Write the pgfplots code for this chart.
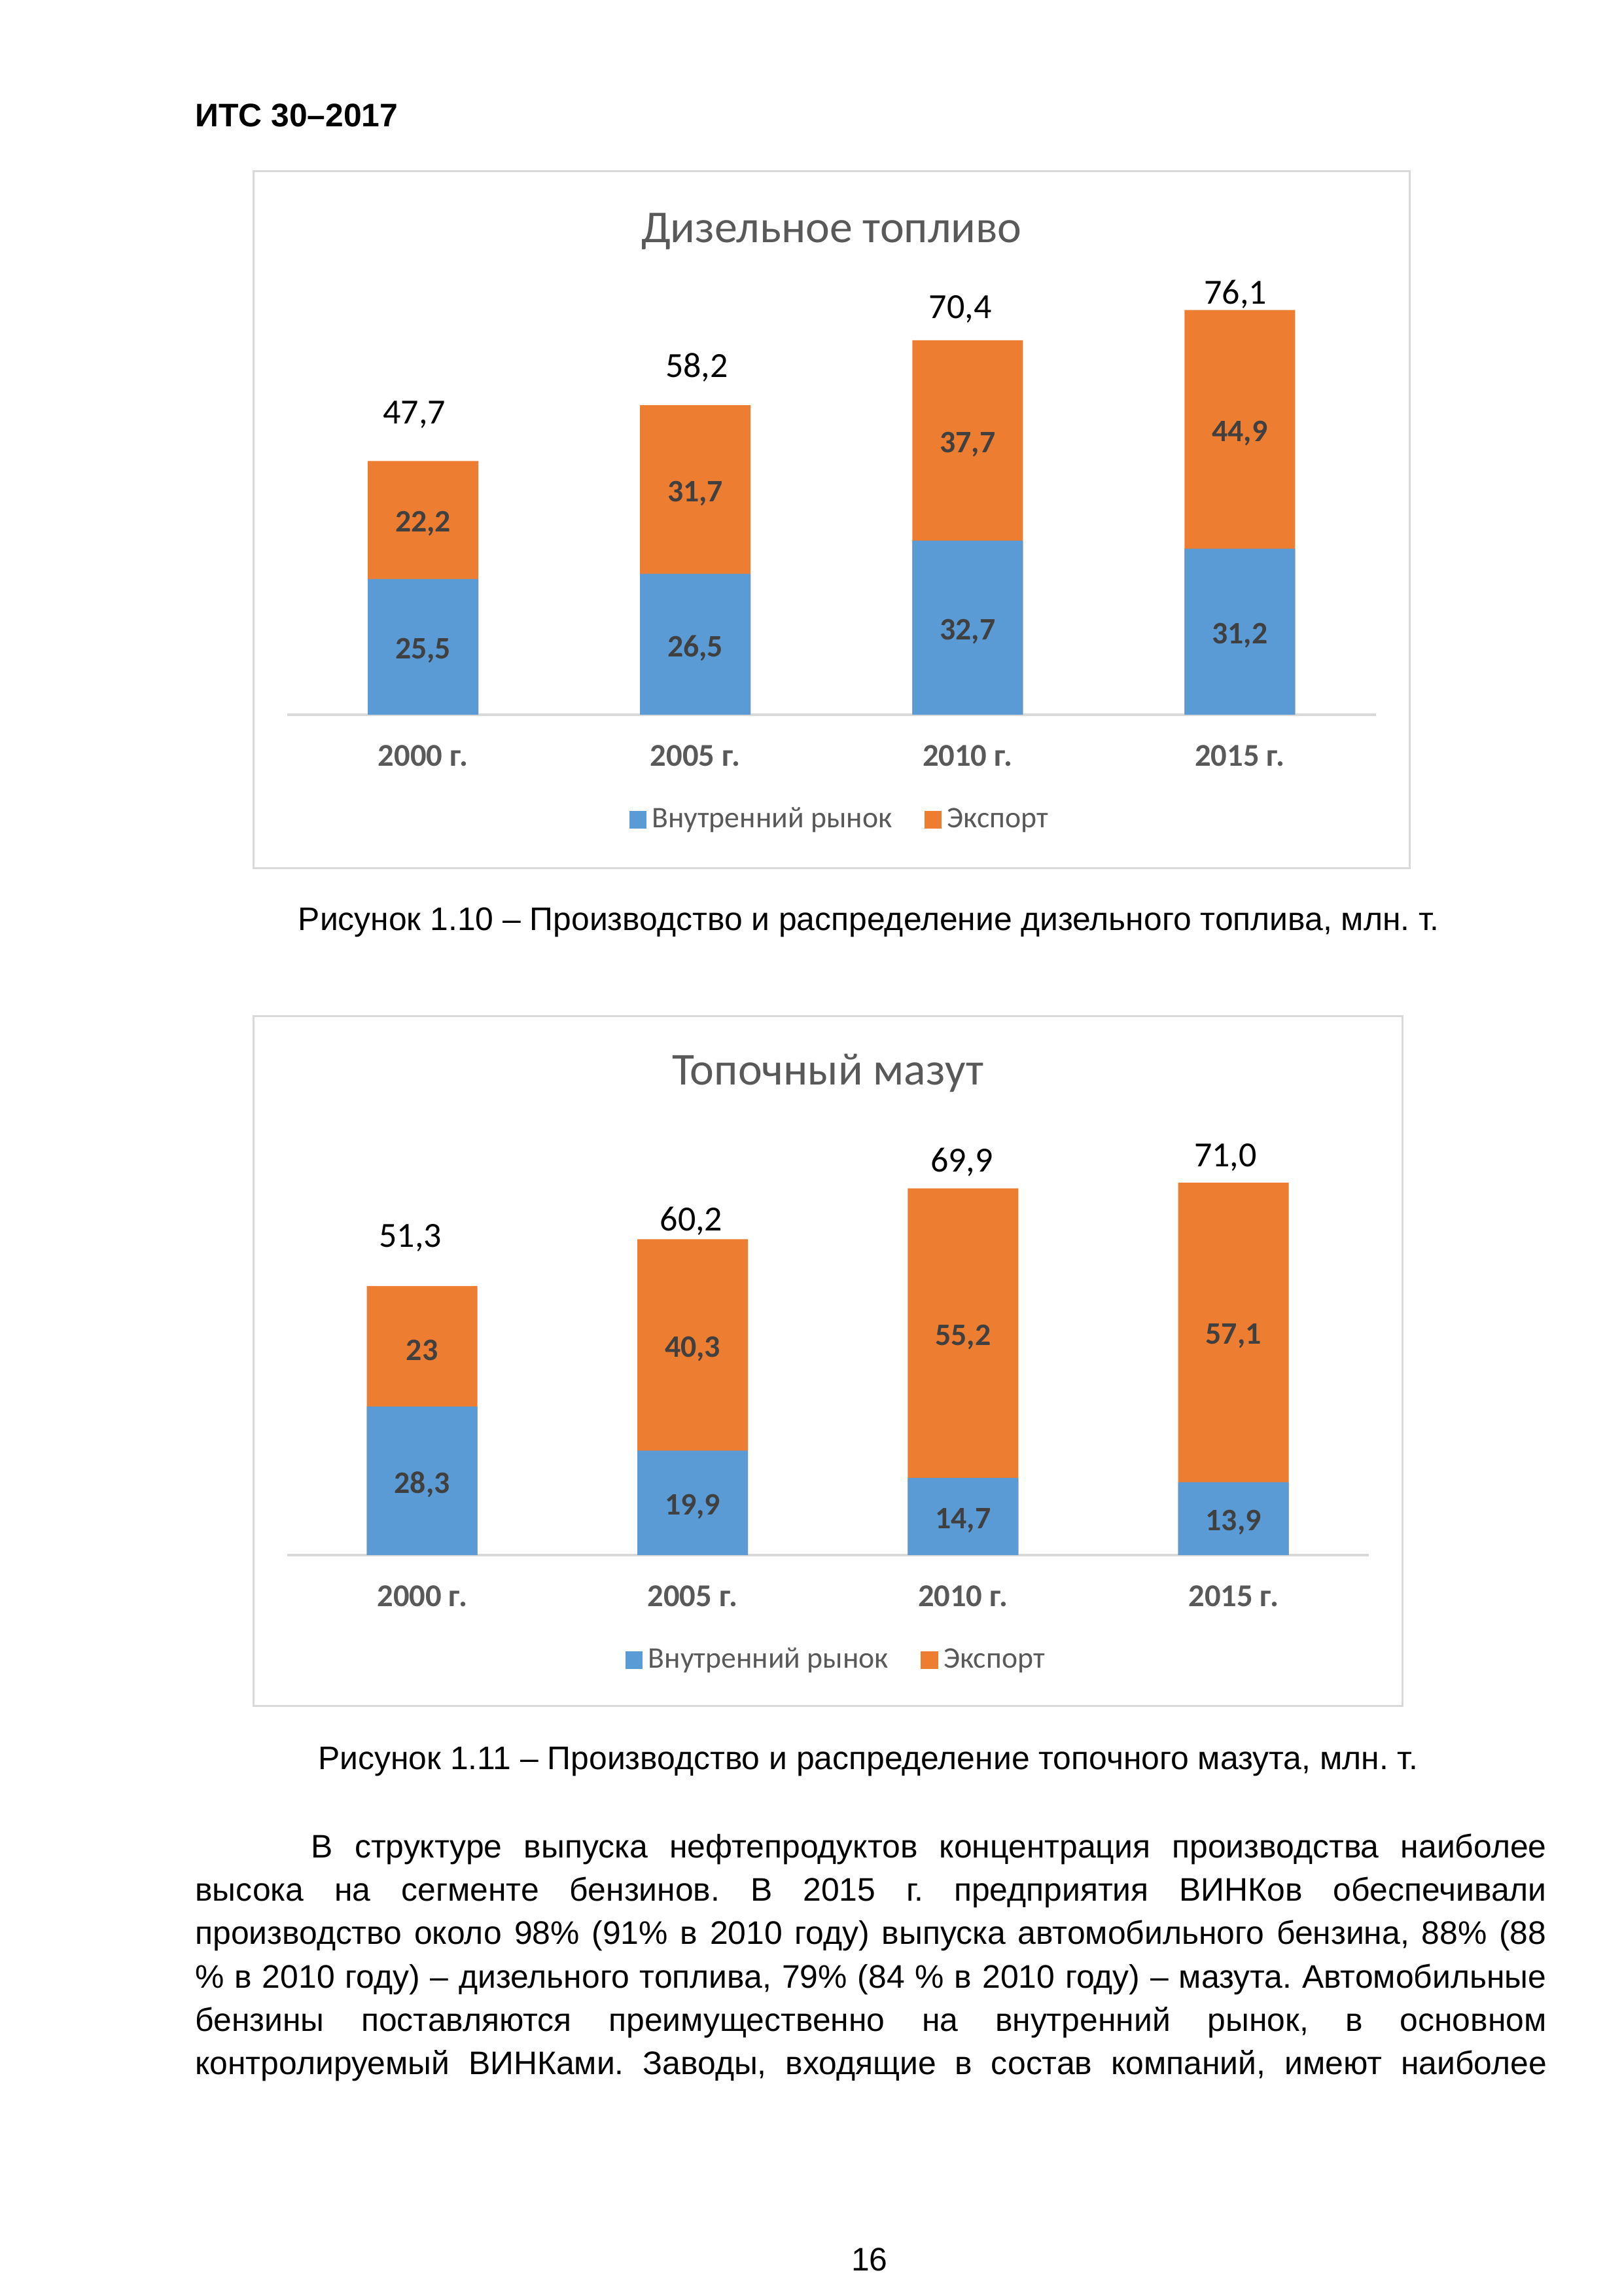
\documentclass[border=0pt]{standalone}
\usepackage{pgfplots}
\pgfplotsset{compat=1.18}
\usepackage{pgfplotstable}
\usepackage{fontspec}
\setmainfont{Liberation Sans}
\newfontfamily\calibri{Carlito}
\definecolor{barblue}{HTML}{5B9BD5}
\definecolor{barorange}{HTML}{ED7D31}
\definecolor{labgray}{HTML}{404040}
\definecolor{txtgray}{HTML}{595959}
\definecolor{linegray}{HTML}{D9D9D9}
\def\pxu{0.18936mm}

% Diesel fuel, mln t
\pgfplotstableread{
x dom exp tot lx ly ld le lt
0 25.5 22.2 47.7 -0.032 56.4 25,5 22,2 47,7
1 26.5 31.7 58.2 1.005 65.3 26,5 31,7 58,2
2 32.7 37.7 70.4 1.973 76.3 32,7 37,7 70,4
3 31.2 44.9 76.1 2.984 79.1 31,2 44,9 76,1
}\dieseldata

% Fuel oil, mln t
\pgfplotstableread{
x dom exp tot lx ly ld le lt
0 28.3 23.0 51.3 -0.043 60.5 28,3 23 51,3
1 19.9 40.3 60.2 0.995 63.7 19,9 40,3 60,2
2 14.7 55.2 69.9 1.995 74.9 14,7 55,2 69,9
3 13.9 57.1 71.0 2.970 75.8 13,9 57,1 71,0
}\mazutdata

\pgfplotsset{
  chartstyle/.style={
    scale only axis,
    xmin=-0.5, xmax=3.5, ymin=0, ymax=80, enlargelimits=false,
    axis x line=bottom, axis y line=none,
    x axis line style={draw=linegray, line width=1pt, -},
    xtick={0,1,2,3},
    xticklabels={2000 г.,2005 г.,2010 г.,2015 г.},
    major tick length=0pt,
    xtick style={draw=none},
    xticklabel style={anchor=center, yshift=-5.3mm,
      font=\calibri\bfseries\fontsize{11.7}{13}\selectfont, text=txtgray},
    ytick=\empty,
    clip=false,
    title style={font=\calibri\fontsize{16.8}{19}\selectfont, text=txtgray,
      at={(0.5,1)}, anchor=center},
    legend columns=2,
    legend style={at={(0.5,0)}, anchor=center, yshift=-13.6mm, xshift=1.3mm,
      draw=none, fill=none,
      font=\calibri\fontsize{11}{13}\selectfont, text=txtgray,
      /tikz/every even column/.append style={column sep=3.5mm}},
  },
  barsty/.style={ybar, bar shift=0pt, bar width=14.3mm, draw=none, forget plot},
  inlab/.style={draw=none, mark=none, nodes near coords, forget plot,
    point meta=explicit symbolic,
    every node near coord/.append style={anchor=center, yshift=-0.5mm,
      font=\calibri\bfseries\fontsize{11.5}{13}\selectfont, text=labgray}},
  totlab/.style={draw=none, mark=none, nodes near coords, forget plot,
    point meta=explicit symbolic,
    every node near coord/.append style={anchor=center,
      font=\calibri\fontsize{13}{15}\selectfont, text=black}},
  bluekey/.style={legend image code/.code={\fill[barblue] (0mm,-1.05mm) rectangle (2.1mm,1.05mm);}},
  orangekey/.style={legend image code/.code={\fill[barorange] (0mm,-1.05mm) rectangle (2.1mm,1.05mm);}},
}

\begin{document}
\frenchspacing
\begin{tikzpicture}
% page
\fill[white] (0,0) rectangle ({1109*\pxu},{-1568*\pxu});

% header
\node[anchor=west, inner sep=0pt, font=\bfseries\fontsize{12}{14}\selectfont]
  at ({133*\pxu},{-79*\pxu}) {ИТС 30–2017};

% chart frames
\draw[linegray, line width=0.7pt] ({173*\pxu},{-117*\pxu}) rectangle ({963*\pxu},{-593*\pxu});
\draw[linegray, line width=0.7pt] ({173*\pxu},{-694*\pxu}) rectangle ({958*\pxu},{-1165*\pxu});

% chart 1
\begin{axis}[chartstyle,
  at={({196*\pxu},{-488*\pxu})}, anchor=south west,
  width=140.88mm, height=55.0mm,
  title={Дизельное топливо}, title style={yshift=5.4mm},
]
\addlegendimage{bluekey}
\addlegendentry{Внутренний рынок}
\addlegendimage{orangekey}
\addlegendentry{Экспорт}
\addplot[barsty, fill=barorange] table[x=x, y=tot] {\dieseldata};
\addplot[barsty, fill=barblue] table[x=x, y=dom] {\dieseldata};
\addplot[inlab] table[x=x, y expr=\thisrow{dom}/2, meta=ld] {\dieseldata};
\addplot[inlab] table[x=x, y expr=\thisrow{dom}+\thisrow{exp}/2, meta=le] {\dieseldata};
\addplot[totlab] table[x=lx, y=ly, meta=lt] {\dieseldata};
\end{axis}

% chart 2
\begin{axis}[chartstyle,
  at={({196*\pxu},{-1062*\pxu})}, anchor=south west,
  width=139.94mm, height=54.28mm,
  title={Топочный мазут}, title style={yshift=5.95mm},
]
\addlegendimage{bluekey}
\addlegendentry{Внутренний рынок}
\addlegendimage{orangekey}
\addlegendentry{Экспорт}
\addplot[barsty, fill=barorange] table[x=x, y=tot] {\mazutdata};
\addplot[barsty, fill=barblue] table[x=x, y=dom] {\mazutdata};
\addplot[inlab] table[x=x, y expr=\thisrow{dom}/2, meta=ld] {\mazutdata};
\addplot[inlab] table[x=x, y expr=\thisrow{dom}+\thisrow{exp}/2, meta=le] {\mazutdata};
\addplot[totlab] table[x=lx, y=ly, meta=lt] {\mazutdata};
\end{axis}

% captions
\node[anchor=center, inner sep=0pt, font=\fontsize{12}{14}\selectfont]
  at ({593.5*\pxu},{-630*\pxu}) {Рисунок 1.10 – Производство и распределение дизельного топлива, млн. т.};
\node[anchor=center, inner sep=0pt, font=\fontsize{12}{14}\selectfont]
  at ({593*\pxu},{-1203*\pxu}) {Рисунок 1.11 – Производство и распределение топочного мазута, млн. т.};

% body text
\node[anchor=north west, inner sep=0pt, align=left, font=\fontsize{12}{15.95}\selectfont]
  at ({133*\pxu},{-1252*\pxu}) {%
\makebox[174.8mm][s]{\hspace*{15mm}В структуре выпуска нефтепродуктов концентрация производства наиболее}\\
\makebox[174.8mm][s]{высока на сегменте бензинов. В 2015 г. предприятия ВИНКов обеспечивали}\\
\makebox[174.8mm][s]{производство около 98\% (91\% в 2010 году) выпуска автомобильного бензина, 88\% (88}\\
\makebox[174.8mm][s]{\% в 2010 году) – дизельного топлива, 79\% (84 \% в 2010 году) – мазута. Автомобильные}\\
\makebox[174.8mm][s]{бензины поставляются преимущественно на внутренний рынок, в основном}\\
\makebox[174.8mm][s]{контролируемый ВИНКами. Заводы, входящие в состав компаний, имеют наиболее}};

% page number
\node[anchor=center, inner sep=0pt, font=\fontsize{12}{14}\selectfont]
  at ({594*\pxu},{-1543*\pxu}) {16};
\end{tikzpicture}
\end{document}
